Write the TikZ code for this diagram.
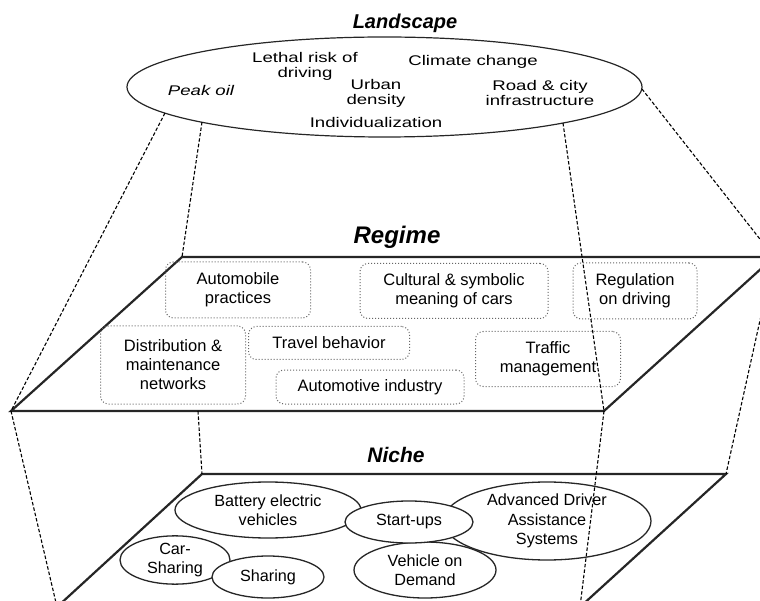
\documentclass[tikz,border=0pt]{standalone}
\usepackage{fontspec}
\setmainfont{Liberation Sans}
\newfontfamily\landfont[FakeStretch=1.33]{Liberation Sans}
\usetikzlibrary{shapes.geometric}
\begin{document}
\begin{tikzpicture}[x=1pt,y=-1pt,
  plane/.style={line width=2.2pt, draw=black!85, line join=miter},
  frust/.style={dash pattern=on 3.5pt off 2pt, line width=1.1pt, draw=black},
  rbox/.style={draw=black!60, dotted, line width=1pt, rounded corners=8pt, inner sep=0pt, align=center, font=\fontsize{16.5}{19}\selectfont},
  nell/.style={ellipse, draw=black!85, line width=1.3pt, fill=white, inner sep=0pt, align=center, font=\fontsize{16.2}{19.5}\selectfont},
  ltxt/.style={inner sep=0pt, align=center, font=\landfont\fontsize{14}{15}\selectfont},
  ttl/.style={inner sep=0pt}
]
\useasboundingbox (0,0) rectangle (760,601);
\clip (0,0) rectangle (760,601);

% titles
\node[ttl, font=\bfseries\itshape\fontsize{20}{24}\selectfont] (tland) at (405,23) {Landscape};
\node[ttl, font=\bfseries\itshape\fontsize{24}{28}\selectfont] (treg) at (397,237) {Regime};
\node[ttl, font=\bfseries\itshape\fontsize{21}{25}\selectfont] (tniche) at (396,455) {Niche};

% landscape
\node[ellipse, draw=black!85, line width=1.2pt, minimum width=515pt, minimum height=100pt, inner sep=0pt] (land) at (384.5,87) {};
\node[ltxt] (lethal) at (305,66.5) {Lethal risk of\\driving};
\node[ltxt] (climate) at (473,62) {Climate change};
\node[ltxt, font=\landfont\itshape\fontsize{14}{15}\selectfont] (peak) at (201,91) {Peak oil};
\node[ltxt] (urban) at (376,93.5) {Urban\\density};
\node[ltxt] (road) at (540,93) {Road \& city\\infrastructure};
\node[ltxt] (indiv) at (376,122) {Individualization};

% frustum points
\coordinate (l1) at (165,113);
\coordinate (l2) at (202,122);
\coordinate (l3) at (563,123);
\coordinate (l4) at (642,89);

\coordinate (rTL) at (182,257);
\coordinate (rTR) at (774,257);
\coordinate (rBR) at (604,411);
\coordinate (rBL) at (11,411);
\coordinate (rB) at (198,411);

\coordinate (nTL) at (202,474);
\coordinate (nTR) at (726,474);
\coordinate (nBR) at (580,607);
\coordinate (nBL) at (57,607);

% planes
\draw[plane] (rTL) -- (rTR) -- (rBR) -- (rBL) -- cycle;
\draw[plane] (nTL) -- (nTR) -- (nBR) -- (nBL) -- cycle;

% dashed edges
\draw[frust] (l1) -- (rBL);
\draw[frust] (l2) -- (rTL);
\draw[frust] (l4) -- (rTR);
\draw[frust] (rBL) -- (nBL);
\draw[frust] (rB) -- (nTL);
\draw[frust] (rTR) -- (nTR);

% regime boxes
\node[rbox, minimum width=145pt, minimum height=56pt] (autop) at (238,290) {Automobile\\practices};
\node[rbox, minimum width=188pt, minimum height=55pt] (cult) at (454,291) {Cultural \& symbolic\\meaning of cars};
\node[rbox, minimum width=124pt, minimum height=56pt] (regu) at (635,291) {Regulation\\on driving};
\node[rbox, minimum width=145pt, minimum height=78pt] (distr) at (173,365) {Distribution \&\\maintenance\\networks};
\node[rbox, minimum width=161pt, minimum height=33pt] (travel) at (329,343) {Travel behavior};
\node[rbox, minimum width=188pt, minimum height=34pt] (autoi) at (370,387) {Automotive industry};
\node[rbox, minimum width=145pt, minimum height=55pt] (traffic) at (548,359) {Traffic\\management};

% niche ellipses
\node[nell, minimum width=110pt, minimum height=48pt] (cs) at (175,560) {Car-\\Sharing};
\node[nell, minimum width=112pt, minimum height=42pt] (sh) at (268,577) {Sharing};
\node[nell, minimum width=186pt, minimum height=56pt] (bev) at (268,510) {Battery electric\\vehicles};
\node[nell, minimum width=208pt, minimum height=78pt] (adas) at (547,521) {Advanced Driver\\Assistance\\Systems};
\node[nell, minimum width=142pt, minimum height=56pt] (vod) at (425,570) {Vehicle on\\Demand};
\node[nell, minimum width=128pt, minimum height=42pt] (su) at (409,522) {Start-ups};

% dashed edges crossing the planes
\draw[frust] (l3) -- (rBR);
\draw[frust] (rBR) -- (nBR);
\end{tikzpicture}
\end{document}
